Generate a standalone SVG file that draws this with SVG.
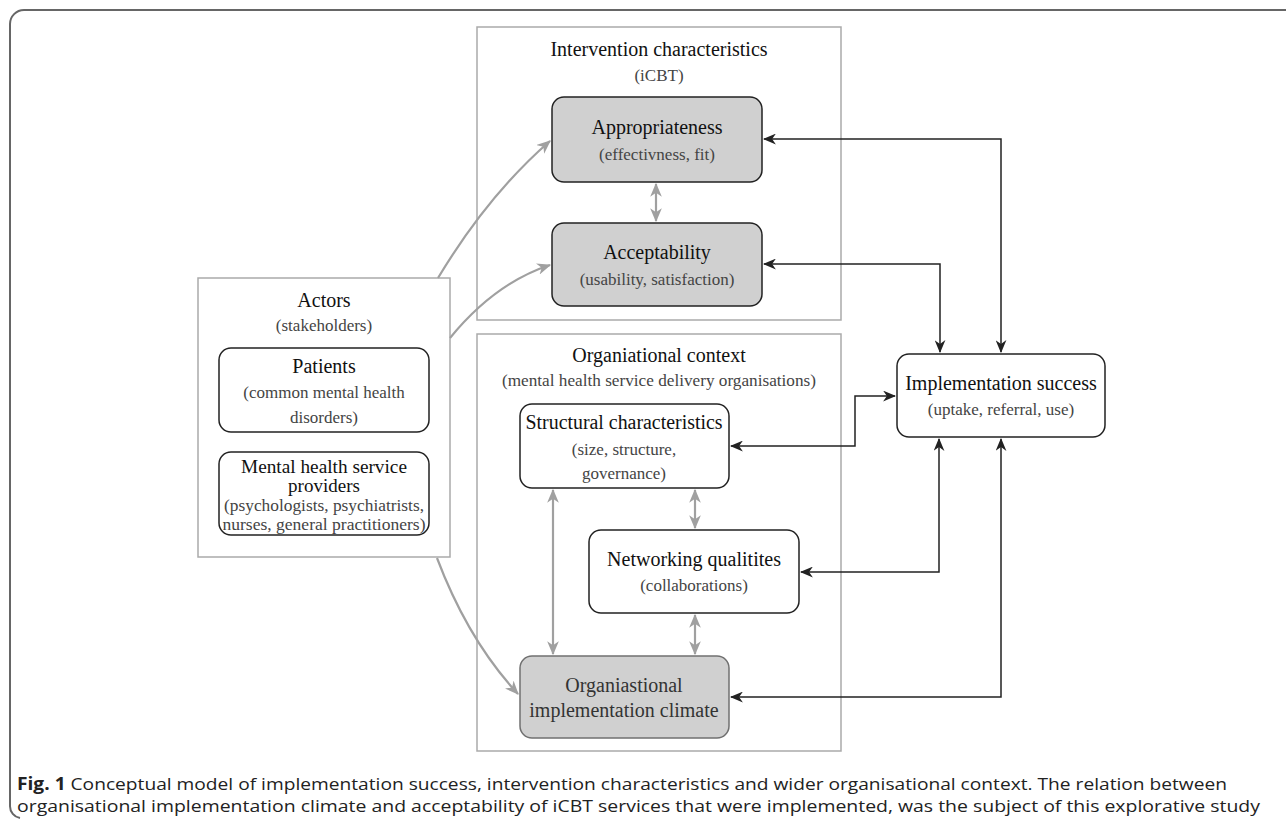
<svg xmlns="http://www.w3.org/2000/svg" width="1287" height="822" viewBox="0 0 1287 822">
<style>
.t{font-family:"Liberation Serif","DejaVu Serif",serif;font-size:20px;fill:#111;text-anchor:middle}
.s{font-family:"Liberation Serif","DejaVu Serif",serif;font-size:17px;fill:#444;text-anchor:middle}
.cont{fill:#fff;stroke:#aaa;stroke-width:1.5}
.node{fill:#fff;stroke:#222;stroke-width:1.5}
.grey{fill:#d0d0d0;stroke:#222;stroke-width:1.5}
.clim{fill:#d0d0d0;stroke:#707070;stroke-width:1.5}
.bl{fill:none;stroke:#222;stroke-width:1.5}
.gr{fill:none;stroke:#a0a0a0;stroke-width:2.2}
.cap{font-family:"Open Sans","Noto Sans","Liberation Sans",sans-serif;font-size:17px;fill:#222}
</style>
<defs>
<marker id="ab" viewBox="0 0 12 10" refX="11" refY="5" markerWidth="13" markerHeight="11" markerUnits="userSpaceOnUse" orient="auto-start-reverse"><path d="M0,0 L12,5 L0,10 L3.5,5 z" fill="#222"/></marker>
<marker id="ag" viewBox="0 0 12 10" refX="11" refY="5" markerWidth="14" markerHeight="12" markerUnits="userSpaceOnUse" orient="auto-start-reverse"><path d="M0,0 L12,5 L0,10 L3.5,5 z" fill="#a0a0a0"/></marker>
</defs>
<rect width="1287" height="822" fill="#fff"/>
<path d="M1286,10 H24 A14,14 0 0 0 10,24 V806 A12,12 0 0 0 20,818" fill="none" stroke="#666" stroke-width="2"/>

<g id="intervention">
<rect class="cont" x="477" y="27" width="364" height="293"/>
<text class="t" x="659" y="56">Intervention characteristics</text>
<text class="s" x="659" y="81">(iCBT)</text>
</g>
<g id="organisational">
<rect class="cont" x="477" y="334" width="364" height="417"/>
<text class="t" x="659" y="362">Organiational context</text>
<text class="s" x="659" y="386" textLength="314" lengthAdjust="spacingAndGlyphs">(mental health service delivery organisations)</text>
</g>
<g id="actors">
<rect class="cont" x="198" y="278" width="252" height="279"/>
<text class="t" x="324" y="307">Actors</text>
<text class="s" x="324" y="331">(stakeholders)</text>
</g>
<g id="patients">
<rect class="node" x="219" y="348" width="210" height="84" rx="12"/>
<text class="t" x="324" y="373">Patients</text>
<text class="s" x="324" y="398">(common mental health</text>
<text class="s" x="324" y="423">disorders)</text>
</g>
<g id="providers">
<rect class="node" x="219" y="452" width="210" height="83" rx="12"/>
<text class="t" x="324" y="473" style="font-size:19px" textLength="166" lengthAdjust="spacingAndGlyphs">Mental health service</text>
<text class="t" x="324" y="492" style="font-size:19px">providers</text>
<text class="s" x="324" y="511" style="font-size:16.5px" textLength="200" lengthAdjust="spacingAndGlyphs">(psychologists, psychiatrists,</text>
<text class="s" x="324" y="530" style="font-size:16.5px" textLength="203" lengthAdjust="spacingAndGlyphs">nurses, general practitioners)</text>
</g>
<g id="appropriateness">
<rect class="grey" x="552" y="97" width="210" height="85" rx="12"/>
<text class="t" x="657" y="134">Appropriateness</text>
<text class="s" x="657" y="160">(effectivness, fit)</text>
</g>
<g id="acceptability">
<rect class="grey" x="552" y="223" width="210" height="83" rx="12"/>
<text class="t" x="657" y="259">Acceptability</text>
<text class="s" x="657" y="285">(usability, satisfaction)</text>
</g>
<g id="structural">
<rect class="node" x="520" y="404" width="209" height="84" rx="12"/>
<text class="t" x="624" y="429" textLength="197" lengthAdjust="spacingAndGlyphs">Structural characteristics</text>
<text class="s" x="624" y="455">(size, structure,</text>
<text class="s" x="624" y="479">governance)</text>
</g>
<g id="networking">
<rect class="node" x="589" y="530" width="210" height="83" rx="12"/>
<text class="t" x="694" y="566">Networking qualitites</text>
<text class="s" x="694" y="591">(collaborations)</text>
</g>
<g id="climate">
<rect class="clim" x="520" y="656" width="209" height="82" rx="12"/>
<text class="t" x="624" y="692" style="fill:#333">Organiastional</text>
<text class="t" x="624" y="717" style="fill:#333">implementation climate</text>
</g>
<g id="success">
<rect class="node" x="897" y="354" width="208" height="83" rx="12"/>
<text class="t" x="1001" y="390">Implementation success</text>
<text class="s" x="1001" y="415">(uptake, referral, use)</text>
</g>

<g id="connectors">
<path class="bl" d="M1001,352 V139 H764" marker-start="url(#ab)" marker-end="url(#ab)"/>
<path class="bl" d="M940,352 V264 H764" marker-start="url(#ab)" marker-end="url(#ab)"/>
<path class="bl" d="M731,446 H855 V396 H895" marker-start="url(#ab)" marker-end="url(#ab)"/>
<path class="bl" d="M801,572 H939 V439" marker-start="url(#ab)" marker-end="url(#ab)"/>
<path class="bl" d="M731,697 H1001 V439" marker-start="url(#ab)" marker-end="url(#ab)"/>
<path class="gr" d="M656,184 V221" marker-start="url(#ag)" marker-end="url(#ag)"/>
<path class="gr" d="M553,490 V654" marker-start="url(#ag)" marker-end="url(#ag)"/>
<path class="gr" d="M695,490 V528" marker-start="url(#ag)" marker-end="url(#ag)"/>
<path class="gr" d="M695,615 V654" marker-start="url(#ag)" marker-end="url(#ag)"/>
<path class="gr" d="M438,278 Q488,195 550,141" marker-end="url(#ag)"/>
<path class="gr" d="M450,338 Q495,283 550,265" marker-end="url(#ag)"/>
<path class="gr" d="M437,558 Q468,640 518,694" marker-end="url(#ag)"/>
</g>

<g id="caption">
<text class="cap" x="17" y="790" textLength="1210" lengthAdjust="spacingAndGlyphs"><tspan font-weight="bold">Fig. 1</tspan>  Conceptual model of implementation success, intervention characteristics and wider organisational context. The relation between</text>
<text class="cap" x="17" y="812" textLength="1243" lengthAdjust="spacingAndGlyphs">organisational implementation climate and acceptability of iCBT services that were implemented, was the subject of this explorative study</text>
</g>
</svg>
